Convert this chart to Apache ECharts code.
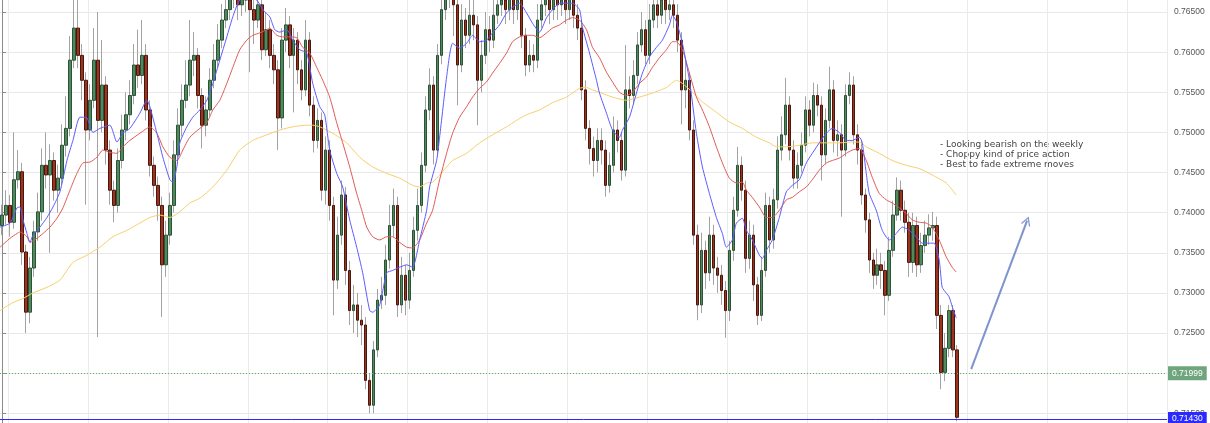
<!DOCTYPE html>
<html><head><meta charset="utf-8">
<script src="https://cdn.jsdelivr.net/npm/echarts@6/dist/echarts.min.js"></script>
<style>html,body{margin:0;padding:0;background:#fff}#c{width:1210px;height:423px}</style>
</head><body><div id="c"></div>
<script>
const opens = [
0.7384,0.7397,0.7409,0.7388,0.7441,0.7451,0.7351,0.7276,0.7331,0.7376,
0.7401,0.7459,0.7447,0.7465,0.7428,0.7443,0.7484,0.7505,0.7590,0.7630,
0.7596,0.7565,0.7503,0.7540,0.7590,0.7515,0.7559,0.7478,0.7428,0.7409,
0.7465,0.7503,0.7522,0.7546,0.7584,0.7571,0.7596,0.7528,0.7459,0.7434,
0.7409,0.7335,0.7372,0.7409,0.7472,0.7509,0.7540,0.7559,0.7590,0.7596,
0.7546,0.7509,0.7528,0.7565,0.7590,0.7615,0.7640,0.7653,0.7671,0.7677,
0.7659,0.7684,0.7665,0.7653,0.7640,0.7659,0.7603,0.7628,0.7596,0.7578,
0.7518,0.7615,0.7634,0.7596,0.7615,0.7578,0.7553,0.7615,0.7534,0.7490,
0.7515,0.7428,0.7478,0.7409,0.7316,0.7372,0.7422,0.7328,0.7278,0.7285,
0.7266,0.7260,0.7191,0.7160,0.7229,0.7291,0.7297,0.7341,0.7384,0.7409,
0.7285,0.7322,0.7291,0.7328,0.7378,0.7409,0.7459,0.7528,0.7559,0.7478,
0.7596,0.7653,0.7677,0.7671,0.7659,0.7584,0.7640,0.7621,0.7646,0.7634,
0.7565,0.7596,0.7628,0.7615,0.7646,0.7659,0.7665,0.7653,0.7671,0.7653,
0.7665,0.7621,0.7584,0.7596,0.7590,0.7640,0.7659,0.7671,0.7653,0.7671,
0.7659,0.7665,0.7653,0.7671,0.7646,0.7630,0.7553,0.7505,0.7480,0.7465,
0.7490,0.7478,0.7434,0.7459,0.7503,0.7490,0.7453,0.7553,0.7546,0.7571,
0.7609,0.7628,0.7596,0.7640,0.7659,0.7646,0.7665,0.7653,0.7659,0.7646,
0.7615,0.7553,0.7565,0.7503,0.7372,0.7285,0.7353,0.7325,0.7372,0.7331,
0.7322,0.7303,0.7278,0.7353,0.7403,0.7459,0.7428,0.7343,0.7372,0.7310,
0.7272,0.7328,0.7409,0.7366,0.7416,0.7478,0.7497,0.7534,0.7478,0.7443,
0.7459,0.7484,0.7528,0.7509,0.7546,0.7534,0.7472,0.7515,0.7553,0.7490,
0.7497,0.7478,0.7546,0.7559,0.7497,0.7478,0.7422,0.7391,0.7341,0.7322,
0.7335,0.7328,0.7297,0.7353,0.7397,0.7428,0.7403,0.7388,0.7338,0.7384,
0.7335,0.7359,0.7372,0.7381,0.7384,0.7272,0.7201,0.7231,0.7278,0.7229];

const closes = [
0.7397,0.7409,0.7388,0.7441,0.7451,0.7351,0.7276,0.7331,0.7376,0.7401,
0.7459,0.7447,0.7465,0.7428,0.7443,0.7484,0.7505,0.7590,0.7630,0.7596,
0.7565,0.7503,0.7540,0.7590,0.7515,0.7559,0.7478,0.7428,0.7409,0.7465,
0.7503,0.7522,0.7546,0.7584,0.7571,0.7596,0.7528,0.7459,0.7434,0.7409,
0.7335,0.7372,0.7409,0.7472,0.7509,0.7540,0.7559,0.7590,0.7596,0.7546,
0.7509,0.7528,0.7565,0.7590,0.7615,0.7640,0.7653,0.7671,0.7677,0.7659,
0.7684,0.7665,0.7653,0.7640,0.7659,0.7603,0.7628,0.7596,0.7578,0.7518,
0.7615,0.7634,0.7596,0.7615,0.7578,0.7553,0.7615,0.7534,0.7490,0.7515,
0.7428,0.7478,0.7409,0.7316,0.7372,0.7422,0.7328,0.7278,0.7285,0.7266,
0.7260,0.7191,0.7160,0.7229,0.7291,0.7297,0.7341,0.7384,0.7409,0.7285,
0.7322,0.7291,0.7328,0.7378,0.7409,0.7459,0.7528,0.7559,0.7478,0.7596,
0.7653,0.7677,0.7671,0.7659,0.7584,0.7640,0.7621,0.7646,0.7634,0.7565,
0.7596,0.7628,0.7615,0.7646,0.7659,0.7665,0.7653,0.7671,0.7653,0.7665,
0.7621,0.7584,0.7596,0.7590,0.7640,0.7659,0.7671,0.7653,0.7671,0.7659,
0.7665,0.7653,0.7671,0.7646,0.7630,0.7553,0.7505,0.7480,0.7465,0.7490,
0.7478,0.7434,0.7459,0.7503,0.7490,0.7453,0.7553,0.7546,0.7571,0.7609,
0.7628,0.7596,0.7640,0.7659,0.7646,0.7665,0.7653,0.7659,0.7646,0.7615,
0.7553,0.7565,0.7503,0.7372,0.7285,0.7353,0.7325,0.7372,0.7331,0.7322,
0.7303,0.7278,0.7353,0.7403,0.7459,0.7428,0.7343,0.7372,0.7310,0.7272,
0.7328,0.7409,0.7366,0.7416,0.7478,0.7497,0.7534,0.7478,0.7443,0.7459,
0.7484,0.7528,0.7509,0.7546,0.7534,0.7472,0.7515,0.7553,0.7490,0.7497,
0.7478,0.7546,0.7559,0.7497,0.7478,0.7422,0.7391,0.7341,0.7322,0.7335,
0.7328,0.7297,0.7353,0.7397,0.7428,0.7403,0.7388,0.7338,0.7384,0.7335,
0.7359,0.7372,0.7381,0.7384,0.7272,0.7201,0.7231,0.7278,0.7229,0.7145];

const highs = [
0.7410,0.7428,0.7422,0.7500,0.7478,0.7462,0.7360,0.7345,0.7390,0.7425,
0.7480,0.7500,0.7485,0.7475,0.7460,0.7510,0.7545,0.7620,0.7665,0.7672,
0.7610,0.7575,0.7560,0.7630,0.7650,0.7615,0.7570,0.7490,0.7440,0.7480,
0.7522,0.7550,0.7565,0.7610,0.7628,0.7640,0.7610,0.7540,0.7470,0.7445,
0.7420,0.7390,0.7425,0.7490,0.7530,0.7560,0.7590,0.7640,0.7625,0.7605,
0.7555,0.7545,0.7580,0.7610,0.7635,0.7660,0.7680,0.7690,0.7700,0.7690,
0.7700,0.7695,0.7680,0.7670,0.7680,0.7668,0.7650,0.7640,0.7610,0.7590,
0.7630,0.7655,0.7645,0.7630,0.7625,0.7590,0.7640,0.7625,0.7545,0.7530,
0.7525,0.7495,0.7490,0.7420,0.7395,0.7440,0.7432,0.7340,0.7310,0.7300,
0.7285,0.7270,0.7200,0.7240,0.7305,0.7320,0.7360,0.7410,0.7430,0.7420,
0.7345,0.7335,0.7350,0.7395,0.7430,0.7475,0.7545,0.7580,0.7570,0.7610,
0.7675,0.7700,0.7700,0.7690,0.7670,0.7660,0.7655,0.7670,0.7665,0.7645,
0.7615,0.7650,0.7645,0.7670,0.7685,0.7690,0.7680,0.7695,0.7685,0.7690,
0.7675,0.7630,0.7615,0.7610,0.7660,0.7680,0.7695,0.7685,0.7695,0.7690,
0.7690,0.7685,0.7695,0.7685,0.7660,0.7640,0.7565,0.7515,0.7495,0.7505,
0.7505,0.7490,0.7475,0.7520,0.7515,0.7500,0.7609,0.7570,0.7590,0.7625,
0.7650,0.7640,0.7660,0.7685,0.7675,0.7690,0.7685,0.7680,0.7675,0.7660,
0.7625,0.7590,0.7575,0.7515,0.7385,0.7375,0.7365,0.7395,0.7385,0.7345,
0.7335,0.7315,0.7365,0.7420,0.7482,0.7470,0.7440,0.7390,0.7385,0.7320,
0.7345,0.7425,0.7420,0.7430,0.7495,0.7520,0.7568,0.7545,0.7490,0.7475,
0.7500,0.7545,0.7540,0.7562,0.7560,0.7545,0.7530,0.7582,0.7565,0.7515,
0.7510,0.7560,0.7575,0.7570,0.7510,0.7490,0.7430,0.7400,0.7350,0.7355,
0.7350,0.7340,0.7370,0.7415,0.7444,0.7440,0.7415,0.7400,0.7400,0.7395,
0.7375,0.7390,0.7398,0.7401,0.7395,0.7285,0.7250,0.7285,0.7285,0.7235];

const lows = [
0.7372,0.7385,0.7370,0.7380,0.7430,0.7335,0.7250,0.7262,0.7320,0.7365,
0.7390,0.7430,0.7350,0.7415,0.7400,0.7435,0.7470,0.7495,0.7580,0.7580,
0.7540,0.7410,0.7490,0.7530,0.7245,0.7500,0.7460,0.7410,0.7388,0.7400,
0.7455,0.7490,0.7510,0.7535,0.7555,0.7560,0.7515,0.7445,0.7420,0.7390,
0.7270,0.7320,0.7360,0.7400,0.7460,0.7495,0.7530,0.7545,0.7570,0.7530,
0.7480,0.7495,0.7520,0.7555,0.7580,0.7605,0.7630,0.7640,0.7655,0.7640,
0.7645,0.7650,0.7575,0.7610,0.7630,0.7590,0.7595,0.7580,0.7560,0.7478,
0.7505,0.7600,0.7580,0.7525,0.7560,0.7540,0.7545,0.7520,0.7475,0.7480,
0.7415,0.7410,0.7390,0.7272,0.7305,0.7360,0.7310,0.7260,0.7250,0.7245,
0.7235,0.7180,0.7150,0.7150,0.7220,0.7280,0.7285,0.7330,0.7370,0.7270,
0.7275,0.7272,0.7280,0.7320,0.7365,0.7400,0.7450,0.7515,0.7460,0.7470,
0.7585,0.7640,0.7655,0.7620,0.7534,0.7575,0.7605,0.7610,0.7615,0.7509,
0.7550,0.7585,0.7600,0.7605,0.7635,0.7645,0.7635,0.7640,0.7635,0.7640,
0.7605,0.7570,0.7575,0.7575,0.7580,0.7630,0.7645,0.7635,0.7640,0.7640,
0.7645,0.7635,0.7640,0.7630,0.7615,0.7540,0.7490,0.7460,0.7445,0.7450,
0.7460,0.7420,0.7425,0.7450,0.7475,0.7440,0.7445,0.7530,0.7535,0.7560,
0.7600,0.7585,0.7585,0.7630,0.7630,0.7635,0.7635,0.7640,0.7630,0.7600,
0.7510,0.7530,0.7490,0.7360,0.7266,0.7275,0.7305,0.7315,0.7310,0.7300,
0.7285,0.7244,0.7265,0.7340,0.7395,0.7415,0.7325,0.7330,0.7290,0.7260,
0.7265,0.7320,0.7350,0.7355,0.7405,0.7465,0.7485,0.7465,0.7430,0.7430,
0.7450,0.7475,0.7495,0.7500,0.7520,0.7440,0.7460,0.7505,0.7475,0.7470,
0.7395,0.7470,0.7535,0.7485,0.7460,0.7410,0.7375,0.7325,0.7305,0.7310,
0.7305,0.7272,0.7290,0.7345,0.7390,0.7390,0.7375,0.7320,0.7325,0.7320,
0.7325,0.7350,0.7360,0.7365,0.7255,0.7180,0.7190,0.7220,0.7220,0.7140];

// moving averages: [bar position, price]
const maFast = [[-0.5,0.7382],[2,0.7387],[3.75,0.7406],[4.5,0.7407],[5.25,0.7391],[6.25,0.7374],[7,0.7363],[7.75,0.7372],[9.5,0.7382],[11.25,0.7394],[12.75,0.7407],[14.5,0.7426],[16.25,0.7465],[17.75,0.7490],[19.5,0.7519],[21.25,0.7518],[22.75,0.7500],[24.5,0.7505],[27,0.7509],[28.75,0.7488],[30.25,0.7499],[32,0.7505],[34.5,0.7524],[36.25,0.7540],[37,0.7532],[38.75,0.7499],[40.25,0.7469],[42,0.7441],[42.75,0.7438],[43.75,0.7457],[44.5,0.7487],[46.25,0.7507],[47.75,0.7519],[49.5,0.7528],[51.25,0.7540],[52.75,0.7561],[54.5,0.7590],[56.25,0.7619],[57.75,0.7644],[59.5,0.7665],[62,0.7668],[63.75,0.7665],[65.25,0.7653],[67,0.7644],[68.25,0.7628],[69.5,0.7625],[71.25,0.7628],[72.75,0.7615],[74.5,0.7603],[76.25,0.7599],[77.75,0.7561],[79.5,0.7532],[80.75,0.7522],[82,0.7478],[83.75,0.7449],[85.25,0.7432],[87,0.7391],[88.75,0.7357],[90.25,0.7325],[92,0.7278],[92.75,0.7276],[94.5,0.7285],[96.25,0.7325],[97.75,0.7328],[99.5,0.7332],[101.25,0.7335],[102.75,0.7332],[104.5,0.7366],[106.25,0.7403],[107,0.7432],[108.75,0.7465],[109.5,0.7494],[111.25,0.7569],[112.75,0.7611],[114.5,0.7605],[116.25,0.7611],[117.75,0.7621],[119.5,0.7613],[121.25,0.7615],[122.75,0.7624],[124.5,0.7634],[126.25,0.7649],[127.75,0.7656],[129.5,0.7661],[131.25,0.7649],[132.75,0.7636],[134.5,0.7625],[136.25,0.7643],[137.75,0.7653],[139.5,0.7661],[141.25,0.7661],[142.75,0.7661],[144.5,0.7653],[145.25,0.7631],[147,0.7599],[148.75,0.7565],[149.5,0.7549],[151.25,0.7524],[152.75,0.7503],[154.5,0.7494],[155.25,0.7503],[157,0.7519],[158.75,0.7549],[160.25,0.7574],[162,0.7594],[163.75,0.7606],[165.25,0.7615],[167,0.7634],[167.75,0.7646],[168.75,0.7638],[170.25,0.7611],[172,0.7565],[173.75,0.7499],[175.25,0.7457],[177,0.7424],[178.75,0.7394],[180.25,0.7374],[181.25,0.7357],[182.75,0.7366],[183.75,0.7387],[185.25,0.7393],[186.25,0.7378],[187.75,0.7366],[189.5,0.7347],[190.25,0.7343],[191.25,0.7353],[192.75,0.7366],[194.5,0.7394],[196.25,0.7426],[197.75,0.7434],[199.5,0.7441],[201.25,0.7462],[202.75,0.7474],[204.5,0.7487],[206.25,0.7499],[207.75,0.7505],[209.5,0.7500],[211.25,0.7490],[212.75,0.7490],[214.5,0.7494],[215.25,0.7487],[216.25,0.7449],[217,0.7424],[218.75,0.7403],[220.25,0.7378],[222,0.7366],[223.75,0.7374],[225.25,0.7382],[227,0.7378],[228.75,0.7370],[230.25,0.7362],[232,0.7362],[233.25,0.7362],[234.5,0.7341],[235.25,0.7307],[236.25,0.7300],[237,0.7295],[237.75,0.7283],[238.75,0.7269]];

const maMid = [[-0.5,0.7357],[2,0.7368],[3.75,0.7374],[4.5,0.7376],[6.25,0.7370],[7,0.7363],[8.75,0.7368],[10.25,0.7374],[12,0.7382],[13.75,0.7393],[15.25,0.7406],[17,0.7428],[18.75,0.7449],[20.25,0.7462],[22,0.7463],[23.75,0.7469],[25.25,0.7478],[27,0.7475],[28.75,0.7474],[30.25,0.7482],[32,0.7490],[34.5,0.7499],[36.25,0.7505],[37,0.7507],[38.75,0.7499],[40.25,0.7482],[42,0.7469],[43.75,0.7465],[45.25,0.7478],[47,0.7494],[49.5,0.7505],[51.25,0.7512],[52.75,0.7528],[54.5,0.7540],[56.25,0.7561],[57.75,0.7581],[59.5,0.7603],[61.25,0.7615],[62.75,0.7621],[64.5,0.7624],[66.25,0.7628],[67,0.7630],[68.75,0.7621],[70.25,0.7619],[72,0.7619],[73.75,0.7618],[75.25,0.7606],[77,0.7599],[78.75,0.7581],[80.25,0.7565],[82,0.7544],[83.75,0.7512],[85.25,0.7487],[87,0.7457],[88.75,0.7424],[90.25,0.7399],[91.25,0.7382],[92.75,0.7370],[94.5,0.7366],[96.25,0.7370],[97.75,0.7370],[99.5,0.7363],[101.25,0.7357],[102.75,0.7356],[104.5,0.7366],[106.25,0.7387],[107.75,0.7403],[109.5,0.7441],[111.25,0.7474],[112.75,0.7499],[114.5,0.7519],[116.25,0.7532],[117.75,0.7544],[119.5,0.7555],[121.25,0.7563],[122.75,0.7574],[124.5,0.7586],[126.25,0.7599],[127.75,0.7613],[129.5,0.7619],[131.25,0.7621],[132.75,0.7621],[134.5,0.7618],[136.25,0.7624],[137.75,0.7630],[139.5,0.7634],[141.25,0.7640],[142.75,0.7643],[144.5,0.7640],[146.25,0.7628],[147.75,0.7606],[149.5,0.7593],[151.25,0.7575],[152.75,0.7563],[154.5,0.7550],[156.25,0.7546],[157.75,0.7550],[159.5,0.7561],[161.25,0.7569],[162.75,0.7581],[164.5,0.7593],[166.25,0.7603],[167.75,0.7613],[168.75,0.7613],[170.25,0.7603],[172,0.7574],[173.75,0.7544],[175.25,0.7528],[177,0.7507],[178.75,0.7482],[180.25,0.7462],[182,0.7443],[183.75,0.7437],[185.25,0.7438],[186.25,0.7428],[187.75,0.7419],[189.5,0.7407],[191.25,0.7394],[192.75,0.7394],[194.5,0.7403],[196.25,0.7416],[197.75,0.7419],[199.5,0.7426],[201.25,0.7432],[202.75,0.7441],[204.5,0.7453],[206.25,0.7462],[207.75,0.7465],[209.5,0.7468],[211.25,0.7474],[212.75,0.7478],[214.5,0.7480],[216.25,0.7465],[217.75,0.7444],[219.5,0.7424],[221.25,0.7416],[222.75,0.7412],[224.5,0.7406],[226.25,0.7399],[227.75,0.7391],[229.5,0.7388],[231.25,0.7387],[232.75,0.7382],[234.5,0.7366],[236.25,0.7345],[237.75,0.7332],[238.75,0.7326]];

const maSlow = [[-0.5,0.7278],[2.75,0.7288],[5.25,0.7293],[7.75,0.7300],[11.25,0.7307],[14.5,0.7316],[17.75,0.7338],[21.25,0.7347],[24.5,0.7357],[27.75,0.7370],[31.25,0.7378],[34.5,0.7387],[37,0.7394],[39.5,0.7397],[42,0.7394],[44.5,0.7401],[47,0.7412],[49.5,0.7418],[52.75,0.7432],[56.25,0.7453],[59.5,0.7478],[62.75,0.7490],[66.25,0.7497],[69.5,0.7503],[72.75,0.7507],[76.25,0.7509],[77.75,0.7509],[79.5,0.7507],[82.75,0.7499],[86.25,0.7487],[89.5,0.7469],[92.75,0.7457],[96.25,0.7449],[99.5,0.7443],[102.75,0.7434],[104.5,0.7432],[106.25,0.7437],[107.75,0.7438],[109.5,0.7447],[111.25,0.7457],[112.75,0.7465],[116.25,0.7474],[119.5,0.7487],[122.75,0.7497],[126.25,0.7507],[128.75,0.7515],[131.25,0.7522],[134.5,0.7528],[137.75,0.7537],[141.25,0.7544],[144.5,0.7555],[146.25,0.7556],[147.75,0.7553],[149.5,0.7550],[152.75,0.7544],[156.25,0.7540],[159.5,0.7544],[162.75,0.7549],[166.25,0.7556],[168.75,0.7565],[170.25,0.7561],[172.75,0.7550],[175.25,0.7538],[178.75,0.7525],[182,0.7513],[185.25,0.7505],[188.75,0.7494],[192,0.7487],[193.75,0.7482],[196.25,0.7482],[199.5,0.7484],[202.75,0.7487],[206.25,0.7487],[209.5,0.7487],[212.75,0.7488],[214.5,0.7488],[216.25,0.7482],[219.5,0.7474],[222.75,0.7465],[226.25,0.7459],[229.5,0.7455],[232.75,0.7447],[236.25,0.7437],[238.75,0.7422]];

const yTicks = [0.715, 0.720, 0.725, 0.730, 0.735, 0.740, 0.745, 0.750, 0.755, 0.760, 0.765];
const yMin = 0.71379;
const yMax = 0.76650;
const lastPrice = 0.71430;
const bidPrice = 0.71999;
const arrowFrom = [242.5, 0.7205];
const arrowTo = [256.5, 0.7390];
const notes = ['- Looking bearish on the weekly', '- Choppy kind of price action', '- Best to fade extreme moves'];
const slotCount = 292;
const slots = Array.from({length: slotCount}, (_, i) => String(i));

const candles = opens.map((o, i) => [o, closes[i], lows[i], highs[i]]);
const bodies = opens.map((o, i) => [o, closes[i], Math.min(o, closes[i]), Math.max(o, closes[i])]);

const priceLabel = (bg) => ({show: true, position: 'end', distance: 1, color: '#fff', backgroundColor: bg,
  padding: [3, 4, 2, 4], fontSize: 8.5, fontFamily: 'Liberation Sans'});

const chart = echarts.init(document.getElementById('c'));
chart.setOption({
  animation: false,
  backgroundColor: '#ffffff',
  grid: {left: 0, right: 43, top: 0, bottom: 0, containLabel: false, outerBoundsMode: 'none'},
  xAxis: [
    {type: 'category', data: slots, boundaryGap: true,
     axisLine: {show: false}, axisTick: {show: false}, axisLabel: {show: false},
     splitLine: {show: true, interval: (i) => i % 20 === 2, lineStyle: {color: '#ebebeb', width: 1}}},
    {type: 'value', min: -0.5, max: slotCount - 0.5, show: false, splitLine: {show: false}}
  ],
  yAxis: {
    type: 'value', position: 'right', min: yMin, max: yMax,
    axisLine: {show: true, lineStyle: {color: '#8c8c8c'}},
    axisTick: {show: true, length: 4, customValues: yTicks, lineStyle: {color: '#8c8c8c'}},
    axisLabel: {color: '#555', fontSize: 8.5, fontFamily: 'Liberation Sans', margin: 7,
                customValues: yTicks, formatter: (v) => v.toFixed(5)},
    splitLine: {show: true, lineStyle: {color: '#e8e8e8', width: 1}}
  },
  graphic: [{
    type: 'text', left: 940, top: 140, silent: true,
    style: {text: notes.join('\n'), font: '9px "DejaVu Sans"', fill: '#444', lineHeight: 9.8}
  }],
  series: [
    {type: 'candlestick', name: 'wicks', data: candles, barWidth: 1, silent: true,
     itemStyle: {color: '#a3a3a3', color0: '#a3a3a3', borderColor: '#a3a3a3', borderColor0: '#a3a3a3', borderWidth: 1}},
    {type: 'candlestick', name: 'bodies', data: bodies, barWidth: 3, silent: true,
     itemStyle: {color: '#4f8a5d', color0: '#9c3321', borderColor: '#2d5237', borderColor0: '#4a170d', borderWidth: 1},
     markLine: {
       silent: true, symbol: ['none', 'none'], animation: false,
       data: [
         {yAxis: bidPrice, lineStyle: {color: '#5aae6c', type: [1, 2], width: 1},
          label: Object.assign(priceLabel('#6ea57c'), {formatter: bidPrice.toFixed(5)})}
       ]
     }},
    {type: 'line', name: 'slow', xAxisIndex: 1, data: maSlow, showSymbol: false, smooth: 0.2, silent: true,
     lineStyle: {color: '#f7cf6e', width: 1},
     markLine: {
       silent: true, symbol: ['none', 'none'], animation: false, clip: false,
       lineStyle: {color: '#2b2bff', type: 'solid', width: 1, opacity: 1},
       data: [
         [{coord: [-0.5, lastPrice], lineStyle: {color: '#2b2bff', type: 'solid', width: 1}},
          {coord: [slotCount - 0.5, lastPrice],
           label: Object.assign(priceLabel('#2a2aff'), {formatter: lastPrice.toFixed(5)})}]
       ]
     }},
    {type: 'line', name: 'mid', xAxisIndex: 1, data: maMid, showSymbol: false, smooth: 0.2, silent: true,
     lineStyle: {color: '#e05a55', width: 1}},
    {type: 'line', name: 'fast', xAxisIndex: 1, data: maFast, showSymbol: false, smooth: 0.2, silent: true,
     lineStyle: {color: '#5c5cff', width: 1},
     markLine: {
       silent: true, animation: false,
       symbol: ['none', 'path://M0,10 L5,0 L10,10 L8.6,10 L5,2.8 L1.4,10 Z'], symbolSize: [10, 9],
       label: {show: false},
       lineStyle: {color: '#7f93cf', width: 2, type: 'solid'},
       data: [[{coord: arrowFrom}, {coord: arrowTo}]]
     }}
  ]
});
</script>
</body></html>
